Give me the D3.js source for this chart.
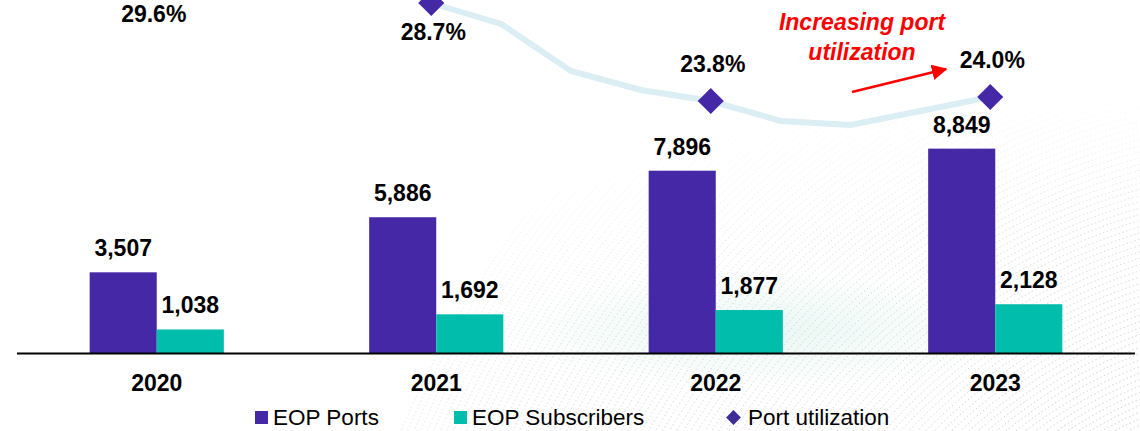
<!DOCTYPE html>
<html>
<head>
<meta charset="utf-8">
<script src="https://cdn.jsdelivr.net/npm/d3@7"></script>
<style>
  html, body { margin: 0; padding: 0; background: #fff; }
  svg { display: block; font-family: "Liberation Sans", Arial, sans-serif; }
</style>
</head>
<body>
<svg id="chart" width="1140" height="431"></svg>
<script>
(function () {
    'use strict';

    // data
    const years = ["2020", "2021", "2022", "2023"];
    const eopPorts = [3507, 5886, 7896, 8849];
    const eopSubscribers = [1038, 1692, 1877, 2128];
    // port utilization, quarterly from Q4 2020 to Q4 2023 (Q1-Q3 2021 are above the frame)
    const utilQuarters = ["Q4 20", "Q1 21", "Q2 21", "Q3 21", "Q4 21", "Q1 22", "Q2 22", "Q3 22", "Q4 22", "Q1 23", "Q2 23", "Q3 23", "Q4 23"];
    const utilValues = [29.6, 30.1, 30.6, 30.4, 28.7, 27.65, 25.3, 24.35, 23.8, 22.8, 22.6, 23.3, 24.0];
    const utilLabels = ["29.6%", "28.7%", "23.8%", "24.0%"];
    const legendNames = ["EOP Ports", "EOP Subscribers", "Port utilization"];

    const purple = "#4528A6";
    const teal = "#00BDAC";
    const lineBlue = "#DAEEF3";
    const fmt = d3.format(",d");

    const svg = d3.select("#chart");
    const defs = svg.append("defs");

    // faint background texture (bottom right)
    const grad = defs.append("radialGradient").attr("id", "fade")
            .attr("cx", 0.95).attr("cy", 1.0).attr("r", 0.8);
    grad.append("stop").attr("offset", "0%").attr("stop-color", "#fff").attr("stop-opacity", 1);
    grad.append("stop").attr("offset", "60%").attr("stop-color", "#fff").attr("stop-opacity", 0.7);
    grad.append("stop").attr("offset", "100%").attr("stop-color", "#fff").attr("stop-opacity", 0);
    defs.append("mask").attr("id", "texMask")
        .append("rect").attr("x", 0).attr("y", 0).attr("width", 1140).attr("height", 431)
        .attr("fill", "url(#fade)");

    const haze = defs.append("radialGradient").attr("id", "haze")
            .attr("cx", 0.5).attr("cy", 0.5).attr("r", 0.5);
    haze.append("stop").attr("offset", "0%").attr("stop-color", "#cfeee6").attr("stop-opacity", 0.45);
    haze.append("stop").attr("offset", "100%").attr("stop-color", "#cfeee6").attr("stop-opacity", 0);
    svg.append("ellipse").attr("cx", 760).attr("cy", 330).attr("rx", 260).attr("ry", 60)
        .attr("fill", "url(#haze)");

    const tex = svg.append("g").attr("mask", "url(#texMask)");
    tex.selectAll("circle")
        .data(d3.range(380, 1000, 6))
        .join("circle")
        .attr("cx", 1320).attr("cy", 820)
        .attr("r", d => d)
        .attr("fill", "none")
        .attr("stroke", "#8f8f8f")
        .attr("stroke-width", 0.9)
        .attr("stroke-dasharray", "1.5 2.5")
        .attr("opacity", 0.5);

    // scales
    const x0 = d3.scaleBand().domain(years).range([17, 1135])
            .paddingInner(0.52).paddingOuter(0.26);
    const x1 = d3.scaleBand().domain(["ports", "subs"]).range([0, x0.bandwidth()]);
    const yBar = d3.scaleLinear().domain([0, 10000]).range([353.5, 122]);
    const yUtil = d3.scaleLinear().domain([24, 28.7]).range([97, 3]);
    const xUtil = d3.scaleLinear().domain([0, utilQuarters.length - 1])
            .range([x0(years[0]) + x0.bandwidth() / 2 - 5, x0(years[3]) + x0.bandwidth() / 2 - 5]);

    const barData = years.map((y, i) => ({ year: y, ports: eopPorts[i], subs: eopSubscribers[i] }));

    const groups = svg.append("g").selectAll("g")
            .data(barData)
            .join("g")
            .attr("transform", d => `translate(${x0(d.year)},0)`);

    const keys = ["ports", "subs"];
    groups.selectAll("rect")
        .data(d => keys.map(k => ({ key: k, value: d[k] })))
        .join("rect")
        .attr("x", d => x1(d.key))
        .attr("width", x1.bandwidth())
        .attr("y", d => yBar(d.value))
        .attr("height", d => yBar(0) - yBar(d.value))
        .attr("fill", d => d.key === "ports" ? purple : teal);

    groups.selectAll("text")
        .data(d => keys.map(k => ({ key: k, value: d[k] })))
        .join("text")
        .attr("x", d => x1(d.key) + x1.bandwidth() / 2)
        .attr("y", d => yBar(d.value) - 16)
        .attr("text-anchor", "middle")
        .style("font-size", "23px")
        .style("font-weight", "bold")
        .attr("fill", "#000")
        .text(d => fmt(d.value));

    // axis line + year labels
    svg.append("line")
        .attr("x1", 17).attr("x2", 1135)
        .attr("y1", yBar(0)).attr("y2", yBar(0))
        .attr("stroke", "#000").attr("stroke-width", 2);

    svg.append("g").selectAll("text")
        .data(years)
        .join("text")
        .attr("x", d => x0(d) + x0.bandwidth() / 2)
        .attr("y", 391)
        .attr("text-anchor", "middle")
        .style("font-size", "23px")
        .style("font-weight", "bold")
        .text(d => d);

    // utilization line
    const line = d3.line()
            .x((d, i) => xUtil(i))
            .y(d => yUtil(d));

    svg.append("path")
        .datum(utilValues)
        .attr("d", line)
        .attr("fill", "none")
        .attr("stroke", lineBlue)
        .attr("stroke-width", 6)
        .attr("stroke-linejoin", "miter");

    const yearEnd = d3.range(0, utilQuarters.length, 4);
    const diamond = d3.symbol().type(d3.symbolSquare).size(340);

    svg.append("g").selectAll("path")
        .data(yearEnd)
        .join("path")
        .attr("d", diamond)
        .attr("transform", k => `translate(${xUtil(k)},${yUtil(utilValues[k])}) rotate(45)`)
        .attr("fill", purple);

    svg.append("g").selectAll("text")
        .data(yearEnd)
        .join("text")
        .attr("x", k => xUtil(k) + 2)
        .attr("y", (k, i) => yUtil(utilValues[k]) + (i < 2 ? 37 : -29))
        .attr("text-anchor", "middle")
        .style("font-size", "23px")
        .style("font-weight", "bold")
        .text((k, i) => utilLabels[i]);

    // annotation
    const note = svg.append("text")
            .attr("text-anchor", "middle")
            .attr("fill", "#FF0000")
            .style("font-size", "23px")
            .style("font-weight", "bold")
            .style("font-style", "italic");
    note.append("tspan").attr("x", 862).attr("y", 30).text("Increasing port");
    note.append("tspan").attr("x", 862).attr("y", 60).text("utilization");

    defs.append("marker")
        .attr("id", "arrow")
        .attr("viewBox", "0 0 10 10")
        .attr("refX", 9).attr("refY", 5)
        .attr("markerWidth", 6).attr("markerHeight", 6)
        .attr("markerUnits", "strokeWidth")
        .attr("orient", "auto")
        .append("path")
        .attr("d", "M0,0L10,5L0,10Z")
        .attr("fill", "#FF0000");

    svg.append("line")
        .attr("x1", 852).attr("y1", 92)
        .attr("x2", 946).attr("y2", 69)
        .attr("stroke", "#FF0000")
        .attr("stroke-width", 2.6)
        .attr("marker-end", "url(#arrow)");

    // legend
    const legend = svg.append("g");
    const legendX = [255, 454, 726];
    legendNames.forEach((name, i) => {
        const g = legend.append("g").attr("transform", `translate(${legendX[i]},411)`);
        if (i < 2) {
            g.append("rect").attr("width", 13).attr("height", 13)
                .attr("fill", i === 0 ? purple : teal);
        } else {
            g.append("path")
                .attr("d", d3.symbol().type(d3.symbolSquare).size(110))
                .attr("transform", "translate(7.5,6.5) rotate(45)")
                .attr("fill", "#3F2D96");
        }
        g.append("text")
            .attr("x", i < 2 ? 18 : 22)
            .attr("y", 14)
            .style("font-size", "22.5px")
            .attr("fill", "#000")
            .text(name);
    });
}());
</script>
</body>
</html>
